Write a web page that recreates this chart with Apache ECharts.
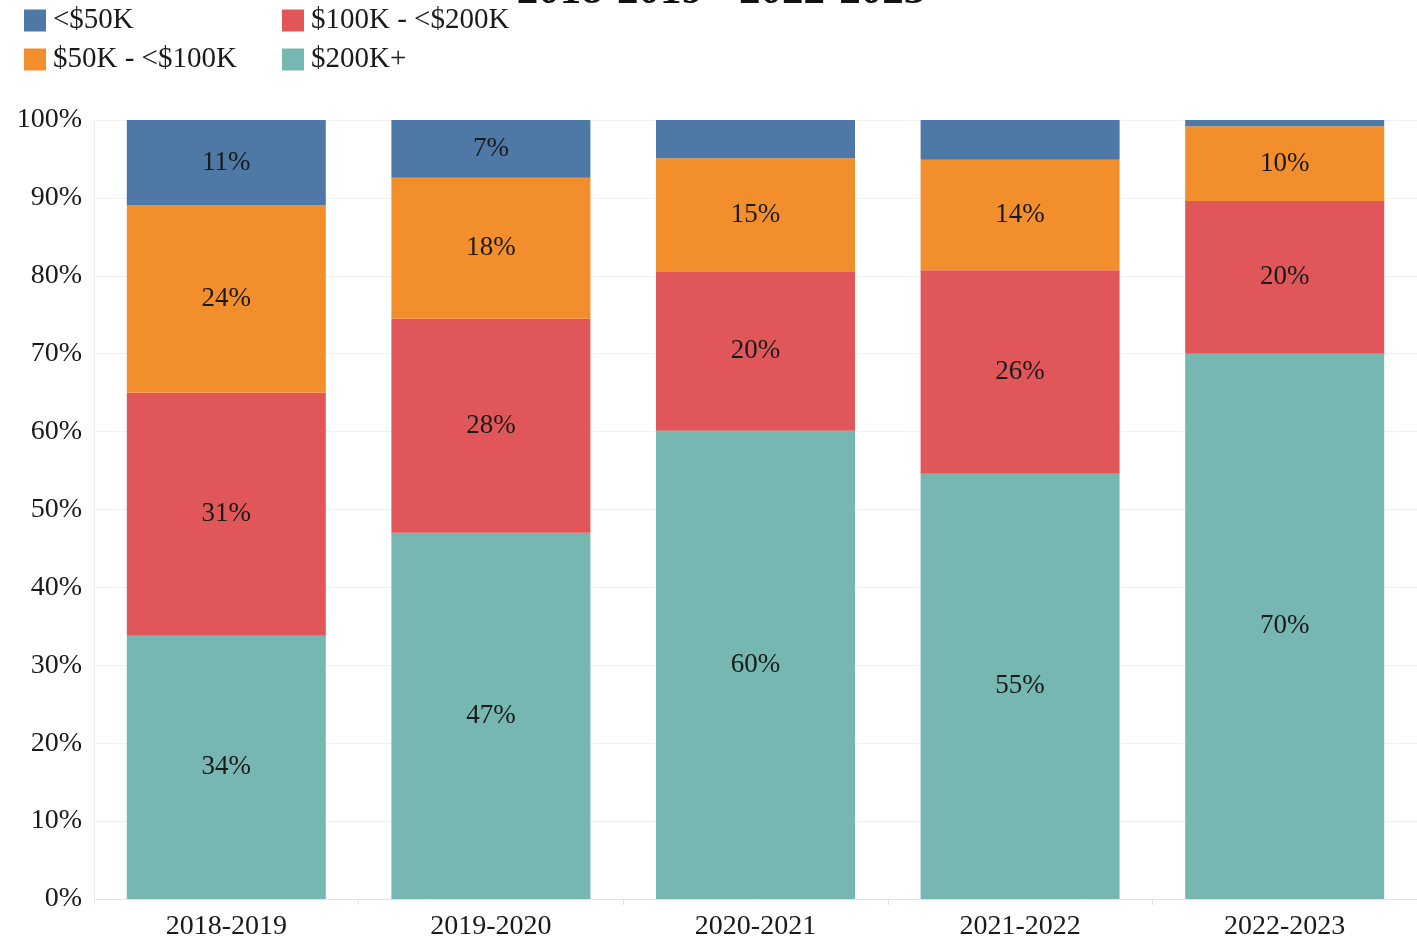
<!DOCTYPE html>
<html>
<head>
<meta charset="utf-8">
<script src="https://cdn.jsdelivr.net/npm/echarts@6/dist/echarts.min.js"></script>
<style>
    html, body { margin: 0; padding: 0; background: #fff; }
    #chart { width: 1417px; height: 941px; }
</style>
</head>
<body>
<div id="chart"></div>
<script>
// 年份分类
const years = ['2018-2019', '2019-2020', '2020-2021', '2021-2022', '2022-2023'];
// 各收入段占比 (%)
const under50k = [10.9, 7.4, 4.9, 5.1, 0.8];
const from50to100k = [24.1, 18.1, 14.6, 14.2, 9.6];
const from100to200k = [31.2, 27.5, 20.4, 26.1, 19.6];
const over200k = [33.8, 47.0, 60.1, 54.6, 70.0];
const yTicks = [0, 10, 20, 30, 40, 50, 60, 70, 80, 90, 100];

const FONT = '"Liberation Serif", serif';
const textColor = '#1a1a1a';

let myChart = echarts.init(document.getElementById('chart'));

function makeSeries(name, data, color, minLabel) {
    return {
        name: name,
        type: 'bar',
        stack: 'total',
        barWidth: 199,
        itemStyle: {
            color: color
        },
        label: {
            show: true,
            position: 'inside',
            fontFamily: FONT,
            fontSize: 27,
            color: textColor,
            formatter: (p) => (p.value >= minLabel ? Math.round(p.value) + '%' : '')
        },
        data: data
    };
}

const legendText = { fontFamily: FONT, fontSize: 29, color: textColor, padding: [0, 0, 0, 2] };

let option = {
    animation: false,
    title: {
        text: '2018-2019 - 2022-2023',
        left: 716,
        textAlign: 'center',
        top: -35,
        textStyle: {
            fontFamily: FONT,
            fontSize: 43,
            fontWeight: 'bold',
            color: '#111'
        }
    },
    legend: [
        {
            orient: 'vertical',
            left: 19,
            top: 1,
            itemWidth: 22,
            itemHeight: 22,
            itemGap: 10,
            icon: 'rect',
            data: ['<$50K', '$50K - <$100K'],
            textStyle: legendText
        },
        {
            orient: 'vertical',
            left: 277,
            top: 1,
            itemWidth: 22,
            itemHeight: 22,
            itemGap: 10,
            icon: 'rect',
            data: ['$100K - <$200K', '$200K+'],
            textStyle: legendText
        }
    ],
    grid: {
        left: 94,
        width: 1327,
        top: 120,
        bottom: 42
    },
    xAxis: {
        type: 'category',
        data: years,
        axisLine: { lineStyle: { color: '#e4e4e4' } },
        axisTick: { show: true, length: 6, lineStyle: { color: '#e4e4e4' } },
        axisLabel: {
            fontFamily: FONT,
            fontSize: 28,
            color: textColor,
            margin: 14
        }
    },
    yAxis: {
        type: 'value',
        min: yTicks[0],
        max: yTicks[yTicks.length - 1],
        interval: 10,
        axisLine: { show: true, lineStyle: { color: '#eeeeee' } },
        axisTick: { show: false },
        splitLine: { lineStyle: { color: '#f0f0f0' } },
        axisLabel: {
            fontFamily: FONT,
            fontSize: 28,
            color: textColor,
            margin: 12,
            formatter: '{value}%'
        }
    },
    series: [
        makeSeries('$200K+', over200k, '#76B7B2', 7),
        makeSeries('$100K - <$200K', from100to200k, '#E15759', 7),
        makeSeries('$50K - <$100K', from50to100k, '#F28E2B', 7),
        makeSeries('<$50K', under50k, '#4E79A7', 7)
    ]
};

window.onresize = myChart.resize;
myChart.setOption(option);
</script>
</body>
</html>
